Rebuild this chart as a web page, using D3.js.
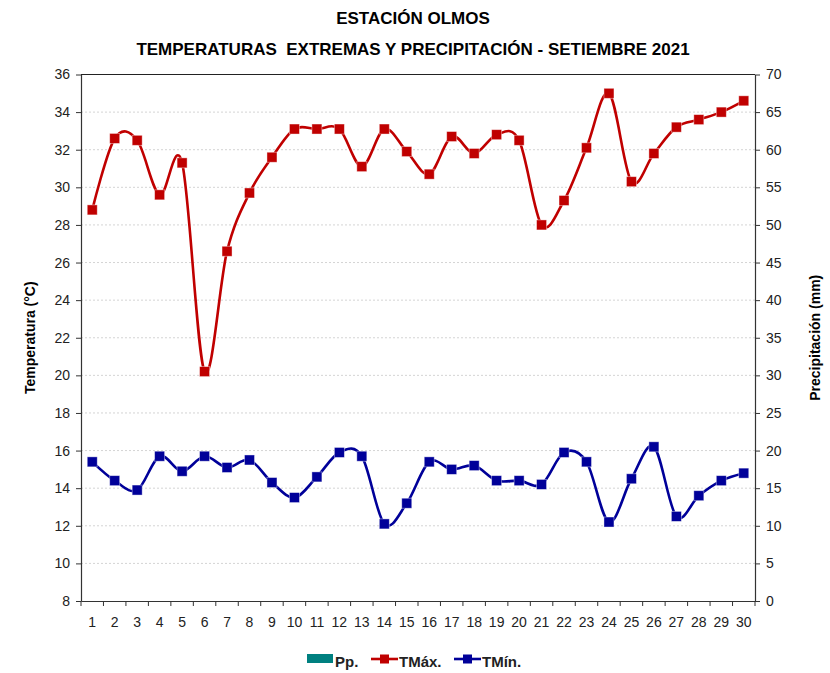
<!DOCTYPE html>
<html>
<head>
<meta charset="utf-8">
<script src="https://cdn.jsdelivr.net/npm/d3@7"></script>
<style>
  body { margin: 0; background: #fff; }
  text { font-family: "Liberation Sans Narrow", "Liberation Sans", Arial, sans-serif; fill: #222; }
  .grid line { stroke: #d4d4d4; stroke-dasharray: 2,2; }
</style>
</head>
<body>
<svg id="chart" width="830" height="673"></svg>
<script>
"use strict";

// days of september 2021
const days = d3.range(1, 31);
// daily precipitation (mm) - no rain recorded
const pp = [0,0,0,0,0,0,0,0,0,0,0,0,0,0,0,0,0,0,0,0,0,0,0,0,0,0,0,0,0,0];
// max temperature (°C)
const tmax = [28.8,32.6,32.5,29.6,31.3,20.2,26.6,29.7,31.6,33.1,33.1,33.1,31.1,33.1,31.9,
              30.7,32.7,31.8,32.8,32.5,28.0,29.3,32.1,35.0,30.3,31.8,33.2,33.6,34.0,34.6];
// min temperature (°C)
const tmin = [15.4,14.4,13.9,15.7,14.9,15.7,15.1,15.5,14.3,13.5,14.6,15.9,15.7,12.1,13.2,
              15.4,15.0,15.2,14.4,14.4,14.2,15.9,15.4,12.2,14.5,16.2,12.5,13.6,14.4,14.8];
const tempTicks = d3.range(8, 37, 2);
const ppTicks = d3.range(0, 71, 5);

const margins = {top: 74.5, right: 75, bottom: 72, left: 81};
const W = 830, H = 673;
const w = W - margins.left - margins.right;
const h = H - margins.top - margins.bottom;

const svg = d3.select('#chart');
const g = svg.append('g').attr('transform', 'translate(' + margins.left + ',' + margins.top + ')');

const x = d3.scaleBand().domain(days).range([0, w]);
const yT = d3.scaleLinear().domain([8, 36]).range([h, 0]);
const yP = d3.scaleLinear().domain([0, 70]).range([h, 0]);

// grid
g.append('g').classed('grid', true)
  .selectAll('line').data(tempTicks.slice(1, -1)).enter()
  .append('line')
    .attr('x1', 0).attr('x2', w)
    .attr('y1', d => yT(d)).attr('y2', d => yT(d));

// top border
g.append('line').attr('x1', 0).attr('x2', w).attr('y1', 0).attr('y2', 0)
  .attr('stroke', '#222').attr('stroke-width', 1.2);

// precipitation bars
g.append('g').selectAll('rect').data(pp).enter()
  .append('rect')
    .attr('x', (d, i) => x(days[i]) + x.bandwidth() * 0.2)
    .attr('width', x.bandwidth() * 0.6)
    .attr('y', d => yP(d))
    .attr('height', d => h - yP(d))
    .attr('fill', '#008080');

// axes
function styleAxis(sel) {
  sel.selectAll('.domain').attr('stroke', '#333').attr('stroke-width', 1.2);
  sel.selectAll('.tick line').attr('stroke', '#333');
  sel.selectAll('text').style('font-size', '14px').attr('fill', '#222');
}

g.append('g')
  .call(d3.axisLeft(yT).tickValues(tempTicks).tickSize(5).tickSizeOuter(0).tickPadding(6))
  .call(styleAxis);

g.append('g').attr('transform', 'translate(' + w + ',0)')
  .call(d3.axisRight(yP).tickValues(ppTicks).tickSize(5).tickSizeOuter(0).tickPadding(6))
  .call(styleAxis);

const xAxis = g.append('g').attr('transform', 'translate(0,' + h + ')')
  .call(d3.axisBottom(x).tickSize(0).tickSizeOuter(0).tickPadding(16))
  .call(styleAxis);
// tick marks between categories
xAxis.selectAll('.sep').data(d3.range(0, days.length + 1)).enter()
  .append('line').classed('sep', true)
    .attr('x1', i => i * x.step()).attr('x2', i => i * x.step())
    .attr('y1', 0).attr('y2', 5)
    .attr('stroke', '#333');

// series lines
const series = [
  {name: 'TMáx.', values: tmax, color: '#C00000'},
  {name: 'TMín.', values: tmin, color: '#000099'}
];
const line = d3.line()
  .x((d, i) => x(days[i]) + x.bandwidth() / 2)
  .y(d => yT(d))
  .curve(d3.curveCardinal.tension(0));

series.forEach(s => {
  g.append('path').datum(s.values)
    .attr('d', line)
    .attr('fill', 'none')
    .attr('stroke', s.color)
    .attr('stroke-width', 2.6);
  g.append('g').selectAll('rect').data(s.values).enter()
    .append('rect')
      .attr('x', (d, i) => x(days[i]) + x.bandwidth() / 2 - 5)
      .attr('y', d => yT(d) - 5)
      .attr('width', 10).attr('height', 10)
      .attr('fill', s.color)
      .attr('stroke', '#fff').attr('stroke-opacity', 0.5).attr('stroke-width', 0.8);
});

// titles
svg.append('text').text('ESTACIÓN OLMOS')
  .attr('x', 413).attr('y', 24).attr('text-anchor', 'middle')
  .style('font-size', '17px').style('font-weight', 'bold').style('fill', '#000');
svg.append('text').text('TEMPERATURAS  EXTREMAS Y PRECIPITACIÓN - SETIEMBRE 2021')
  .attr('x', 413).attr('y', 55).attr('text-anchor', 'middle')
  .style('font-size', '17px').style('font-weight', 'bold').style('fill', '#000')
  .attr('xml:space', 'preserve');

svg.append('text').text('Temperatura (°C)')
  .attr('transform', 'translate(35,' + (margins.top + h / 2) + ') rotate(-90)')
  .attr('text-anchor', 'middle')
  .style('font-size', '14px').style('font-weight', 'bold').style('fill', '#000');
svg.append('text').text('Precipitación (mm)')
  .attr('transform', 'translate(820,' + (margins.top + h / 2) + ') rotate(-90)')
  .attr('text-anchor', 'middle')
  .style('font-size', '14px').style('font-weight', 'bold').style('fill', '#000');

// legend
const legend = svg.append('g').attr('transform', 'translate(0,661)');
legend.append('rect').attr('x', 307).attr('y', -7).attr('width', 26).attr('height', 9).attr('fill', '#008080');
legend.append('text').text('Pp.').attr('x', 335).attr('y', 6).style('font-size', '15px').style('font-weight', 'bold');
const legItems = [
  {s: series[0], x0: 371, tx: 399},
  {s: series[1], x0: 454, tx: 482}
];
legItems.forEach(it => {
  legend.append('line').attr('x1', it.x0).attr('x2', it.x0 + 27).attr('y1', -2).attr('y2', -2)
    .attr('stroke', it.s.color).attr('stroke-width', 2.6);
  legend.append('rect').attr('x', it.x0 + 13.5 - 4.5).attr('y', -6.5).attr('width', 9).attr('height', 9)
    .attr('fill', it.s.color);
  legend.append('text').text(it.s.name).attr('x', it.tx).attr('y', 6)
    .style('font-size', '15px').style('font-weight', 'bold');
});
</script>
</body>
</html>
